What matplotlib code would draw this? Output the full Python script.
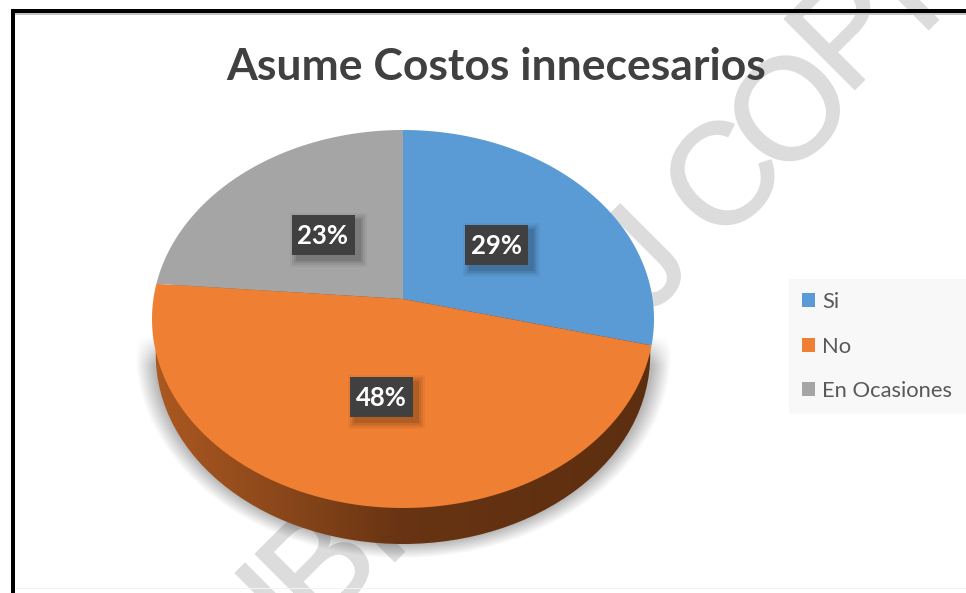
import numpy as np
import matplotlib
matplotlib.use("Agg")
import matplotlib.pyplot as plt
import matplotlib.patheffects as pe
from matplotlib.patches import Rectangle, Ellipse
from matplotlib.path import Path
from matplotlib.transforms import Transform

categories = ["Si", "No", "En Ocasiones"]
values = [28.9, 47.4, 23.7]
percent_labels = ["29%", "48%", "23%"]
colors = ["#5B9BD5", "#EF7F32", "#A5A5A5"]
title = "Asume Costos innecesarios"

W, H = 966, 593
CX, CY, RX, RY = 403.0, 319.0, 251.0, 189.0
TILT = 0.106
DEPTH = 36.0

plt.rcParams["font.family"] = ["Lato", "DejaVu Sans"]


class Tilt(Transform):
    """Perspective of the pie's top face: the centre sits above the ellipse's centre."""
    input_dims = output_dims = 2

    def __init__(self, a):
        super().__init__()
        self.a = a

    def transform_non_affine(self, xy):
        xy = np.asarray(xy, float)
        den = 1 + self.a * xy[:, 1]
        return np.column_stack((xy[:, 0] * np.sqrt(1 - self.a ** 2) / den,
                                (xy[:, 1] + self.a) / den))

    def transform_path_non_affine(self, path):
        poly = Path(path.vertices * 2000, path.codes).to_polygons(closed_only=True)[0] / 2000
        return Path(self.transform_non_affine(poly), closed=True)


fig = plt.figure(figsize=(W / 100, H / 100), dpi=100, facecolor="white")

# page layer, in pixel coordinates
bg = fig.add_axes([0, 0, 1, 1], zorder=0)
bg.set_xlim(0, W)
bg.set_ylim(H, 0)
bg.axis("off")

# watermark
wm_letters = [("I", 284, 612), ("B", 325, 572), ("I", 373, 530), ("J", 646, 266),
              ("C", 729, 184), ("O", 796, 117), ("P", 854, 37), ("I", 907, -2), ("A", 985, -45)]
for ch, x, y in wm_letters:
    bg.text(x, y, ch, rotation=45, rotation_mode="anchor", ha="center", va="center",
            color="#DCDCDC", fontsize=104, family="Liberation Sans", zorder=1,
            path_effects=[pe.withStroke(linewidth=1.2, foreground="#DCDCDC")])

# frame
bg.add_patch(Rectangle((11, 9), W, 4, fc="black", ec="none", zorder=2))
bg.add_patch(Rectangle((15, 13), W, 1.5, fc="#C4C4C4", ec="none", zorder=2))
bg.add_patch(Rectangle((11, 9), 4, H, fc="black", ec="none", zorder=2))
bg.add_patch(Rectangle((15, 587.5), W, 1, fc="#F3F3F3", ec="none", zorder=2))

# soft shadow below the pie
yy, xx = np.mgrid[0:H, 0:W]
d = np.hypot((xx - CX) / 268, (yy - 352) / 206)
alpha = 0.28 * np.clip((1 - d) / 0.07, 0, 1) * np.clip((yy - 335) / 30, 0, 1)
img = np.zeros((H, W, 4))
img[..., 3] = alpha
bg.imshow(img, extent=[0, W, H, 0], aspect="auto", zorder=3, interpolation="bilinear")

# side wall: horizontal gradient clipped to the lower ellipse
stops_x = [150, 170, 290, 400, 660]
stops_c = np.array([[172, 90, 34], [168, 86, 32], [136, 70, 26], [104, 52, 19], [92, 46, 16]]) / 255
grad = np.zeros((1, W, 3))
for i in range(3):
    grad[0, :, i] = np.interp(np.arange(W), stops_x, stops_c[:, i])
wall = bg.imshow(grad, extent=[0, W, H, 0], aspect="auto", zorder=4)
outline = Ellipse((CX, CY + DEPTH), 2 * RX * 0.985, 2 * RY, fc="none", ec="none",
                  transform=bg.transData)
bg.add_patch(outline)
wall.set_clip_path(outline)
bg.set_xlim(0, W)
bg.set_ylim(H, 0)

# pie top face
ax = fig.add_axes([(CX - RX) / W, 1 - (CY + RY) / H, 2 * RX / W, 2 * RY / H], zorder=1)
wedges, _ = ax.pie(values, colors=colors, startangle=90, counterclock=False, radius=1,
                   wedgeprops={"linewidth": 0})
ax.set_aspect("auto")
ax.set_xlim(-1, 1)
ax.set_ylim(-1, 1)
ax.axis("off")
tilt = Tilt(TILT)
for w in wedges:
    w.set_transform(tilt + ax.transData)
    w.set_clip_on(False)

# data labels
label_pos = [(496, 245), (381, 397), (323, 235)]
BW, BH = 63, 40
for txt, (x, y) in zip(percent_labels, label_pos):
    for grow, a in [(7, 0.04), (5, 0.06), (3, 0.08), (1, 0.10)]:
        ax.add_patch(Rectangle((x - BW / 2 + 5 - grow, y - BH / 2 + 5 - grow), BW + 2 * grow, BH + 2 * grow,
                               fc="black", ec="none", alpha=a, transform=bg.transData, clip_on=False))
    ax.add_patch(Rectangle((x - BW / 2, y - BH / 2), BW, BH, fc="#404040", ec="none",
                           transform=bg.transData, clip_on=False))
    ax.text(x, y + 1, txt, color="white", fontsize=18.5, fontweight="bold", ha="center", va="center",
            transform=bg.transData, clip_on=False)

# title
fig.text(496.5 / W, 1 - 67 / H, title, fontsize=32, fontweight="bold", color="#404040",
         ha="center", va="center", zorder=5)

# legend
leg = ax.legend(wedges, categories, loc="upper left",
                bbox_to_anchor=(789 / W, 1 - 279 / H), bbox_transform=fig.transFigure,
                frameon=True, fancybox=False, facecolor="#F8F8F8", edgecolor="none", framealpha=1,
                fontsize=15.8, labelcolor="#595959", borderaxespad=0, borderpad=0.6,
                handlelength=0.6, handleheight=0.6, handletextpad=0.32, labelspacing=1.11)

fig.savefig("out.png", dpi=100)
